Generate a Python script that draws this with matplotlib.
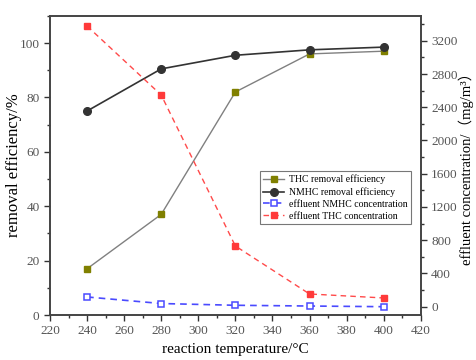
import matplotlib.pyplot as plt
from matplotlib.ticker import MultipleLocator

# data
temps = [240, 280, 320, 360, 400]
thc_removal = [17, 37, 82, 96, 97]
nmhc_removal = [75, 90.5, 95.5, 97.5, 98.5]
nmhc_conc = [117, 38, 17, 8, 0]
thc_conc = [3377, 2547, 730, 153, 105]

plt.rcParams['font.family'] = ['Liberation Serif', 'Noto Sans CJK SC', 'DejaVu Sans']
tick_col = '#555555'

fig = plt.figure(figsize=(4.76, 3.6), dpi=100)
ax = fig.add_axes([0.105, 0.125, 0.779, 0.831])
ax2 = ax.twinx()

l1, = ax.plot(temps, thc_removal, color='#808080', lw=1, marker='s', ms=4.5,
              mfc='#808000', mec='#808000', label='THC removal efficiency')
l2, = ax.plot(temps, nmhc_removal, color='#333333', lw=1.2, marker='o', ms=5.5,
              mfc='#333333', mec='#333333', label='NMHC removal efficiency')
l3, = ax2.plot(temps, nmhc_conc, color='#4a4aff', lw=1.2, ls=(0, (4, 3)), marker='s', ms=4.5,
               mfc='white', mec='#4a4aff', mew=1.1, label='effluent NMHC concentration')
l4, = ax2.plot(temps, thc_conc, color='#ff4a4a', lw=1, ls=(0, (4, 3)), marker='s', ms=4.5,
               mfc='#ff3a3a', mec='#ff3a3a', label='effluent THC concentration')

ax.set_xlim(220, 420)
ax.set_ylim(0, 110)
ax2.set_ylim(-100, 3500)

ax.xaxis.set_major_locator(MultipleLocator(20))
ax.xaxis.set_minor_locator(MultipleLocator(10))
ax.yaxis.set_major_locator(MultipleLocator(20))
ax.yaxis.set_minor_locator(MultipleLocator(10))
ax2.yaxis.set_major_locator(MultipleLocator(400))
ax2.yaxis.set_minor_locator(MultipleLocator(200))

for a in (ax, ax2):
    a.tick_params(which='major', direction='out', length=4, width=1, labelsize=9.5,
                  labelcolor=tick_col, color='#333333')
    a.tick_params(which='minor', direction='out', length=2.5, width=1, color='#333333')
    for s in a.spines.values():
        s.set_color('#444444')
        s.set_linewidth(1.2)

ax.set_xlabel('reaction temperature/°C', fontsize=11)
ax.set_ylabel('removal efficiency/%', fontsize=12)
ax.yaxis.set_label_coords(-0.075, 0.5)
ax2.set_ylabel('effluent concentration/（mg/m³）', fontsize=10.5)
ax2.yaxis.set_label_coords(1.102, 0.5)

leg = ax.legend(handles=[l1, l2, l3, l4], loc='upper left', bbox_to_anchor=(0.552, 0.497),
                fontsize=7, frameon=True, fancybox=False, edgecolor='#555555',
                handlelength=2.2, handletextpad=0.5, borderpad=0.35, labelspacing=0.3)
leg.get_frame().set_linewidth(0.8)

fig.savefig('out.png', dpi=100)
